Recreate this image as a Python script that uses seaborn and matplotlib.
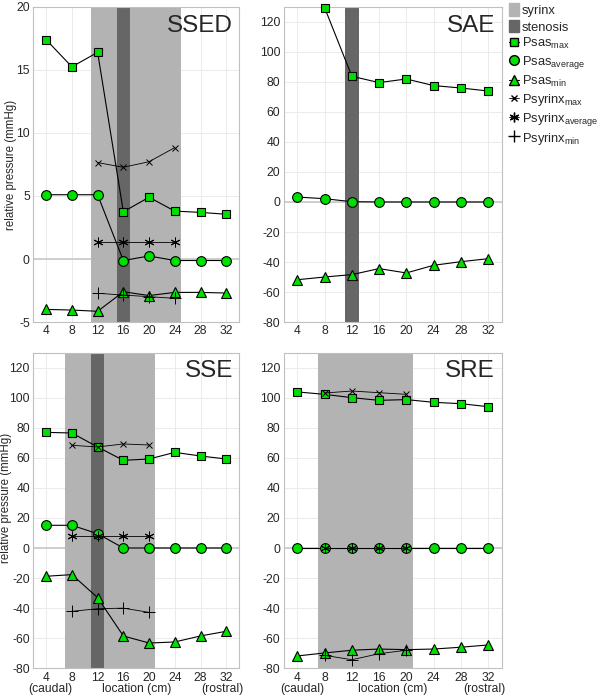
import numpy as np
import pandas as pd
import matplotlib
matplotlib.use("Agg")
import matplotlib.pyplot as plt
import matplotlib.patches as mpatches
import matplotlib.transforms as mtransforms
from matplotlib.lines import Line2D
import seaborn as sns

# locations along the spinal canal (cm)
loc = [4, 8, 12, 16, 20, 24, 28, 32]

# SSED
ssed_psas_max = [17.4, 15.25, 16.4, 3.75, 4.9, 3.8, 3.7, 3.55]
ssed_psas_avg = [5.1, 5.1, 5.1, -0.12, 0.24, -0.12, -0.12, -0.12]
ssed_psas_min = [-4.0, -4.05, -4.15, -2.6, -2.9, -2.65, -2.65, -2.7]
ssed_syr_loc = [12, 16, 20, 24]
ssed_syr_max = [7.65, 7.28, 7.72, 8.84]
ssed_syr_avg = [1.38, 1.38, 1.38, 1.38]
ssed_syr_min = [-2.72, -2.86, -2.99, -3.12]
ssed_syrinx = (11, 25)
ssed_stenosis = (15, 17)

# SAE
sae_loc = [8, 12, 16, 20, 24, 28, 32]
sae_psas_max = [129.5, 83.8, 79.6, 82.0, 77.6, 76.0, 74.0]
sae_psas_avg = [3.3, 2.2, 0.2, 0, 0, 0, 0, 0]
sae_psas_min = [-51.8, -50.0, -48.4, -44.4, -47.3, -42.2, -39.8, -37.8]
sae_stenosis = (11, 13)

# SSE
sse_psas_max = [76.9, 76.5, 67.2, 58.3, 59.2, 63.6, 61.2, 59.2]
sse_psas_avg = [15.1, 15.1, 9.5, 0, 0, 0, 0, 0]
sse_psas_min = [-18.8, -17.7, -33.0, -58.5, -63.2, -62.5, -58.5, -55.4]
sse_syr_loc = [8, 12, 16, 20]
sse_syr_max = [68.3, 67.2, 69.2, 68.5]
sse_syr_avg = [7.8, 7.8, 7.8, 7.8]
sse_syr_min = [-42.1, -40.4, -40.0, -42.8]
sse_syrinx = (7, 21)
sse_stenosis = (11, 13)

# SRE
sre_psas_max = [103.8, 102.2, 100.0, 98.2, 98.7, 96.9, 96.0, 94.0]
sre_psas_avg = [0, 0, 0, 0, 0, 0, 0, 0]
sre_psas_min = [-71.8, -69.8, -68.0, -67.2, -67.6, -67.2, -66.0, -64.5]
sre_syr_loc = [8, 12, 16, 20]
sre_syr_max = [103.1, 104.4, 103.3, 102.2]
sre_syr_avg = [0, 0, 0, 0]
sre_syr_min = [-71.4, -74.3, -70.3, -68.0]
sre_syrinx = (7, 21)

GREEN = "#00e000"
SYRINX_C = "#b3b3b3"
STENOSIS_C = "#666666"
FS = 8.3

sns.set_style("whitegrid")
plt.rcParams["font.family"] = ["Liberation Sans", "DejaVu Sans"]
plt.rcParams["mathtext.fontset"] = "custom"
plt.rcParams["mathtext.rm"] = "Liberation Sans"
plt.rcParams["mathtext.it"] = "Liberation Sans"
plt.rcParams["axes.unicode_minus"] = False

psas_style = {"max": dict(marker="s", ms=5.5), "avg": dict(marker="o", ms=7),
              "min": dict(marker="^", ms=7.5)}
syr_style = {"max": dict(marker="x", ms=5), "avg": dict(marker=(6, 2, 0), ms=7),
             "min": dict(marker="+", ms=8)}


def draw_panel(ax, name, ylim, yticks, psas, syr=None, syrinx=None, stenosis=None):
    ax.axhline(0, color="#c8c8c8", lw=1.2, zorder=0.6)
    if syrinx:
        ax.axvspan(*syrinx, color=SYRINX_C, lw=0, zorder=0.7)
    if stenosis:
        ax.axvspan(*stenosis, color=STENOSIS_C, lw=0, zorder=0.8)
    for key, (x, y) in psas.items():
        sns.lineplot(x=x, y=y, ax=ax, color="black", lw=0.8,
                     markerfacecolor=GREEN, markeredgecolor="black",
                     markeredgewidth=0.8, clip_on=False, zorder=3,
                     **psas_style[key])
    if syr:
        for key, (x, y) in syr.items():
            sns.lineplot(x=x, y=y, ax=ax, color="black", lw=0.6,
                         markeredgecolor="black", markeredgewidth=0.7,
                         zorder=4, **syr_style[key])
    ax.set_xlim(2, 34)
    ax.set_ylim(*ylim)
    ax.set_xticks(loc)
    ax.set_yticks(yticks)
    ax.grid(True, color="#e8e8e8", lw=0.6)
    ax.set_axisbelow(True)
    for s in ax.spines.values():
        s.set_color("#c0c0c0")
        s.set_linewidth(0.8)
    ax.tick_params(labelsize=FS + 0.4, length=3, direction="in", color="#b0b0b0", pad=2.5)
    ax.set_xlabel("")
    ax.set_ylabel("")
    ax.text(0.97, 0.975, name, transform=ax.transAxes, ha="right", va="top",
            fontsize=17.5, zorder=5)


fig = plt.figure(figsize=(6.0, 6.97), dpi=100)
ax_tl = fig.add_axes([0.0555, 0.538, 0.343, 0.452])
ax_tr = fig.add_axes([0.473, 0.538, 0.363, 0.452])
ax_bl = fig.add_axes([0.0555, 0.0412, 0.343, 0.453])
ax_br = fig.add_axes([0.473, 0.0412, 0.363, 0.453])

yt_big = [-80, -60, -40, -20, 0, 20, 40, 60, 80, 100, 120]

draw_panel(ax_tl, "SSED", (-5, 20), [-5, 0, 5, 10, 15, 20],
           {"max": (loc, ssed_psas_max), "avg": (loc, ssed_psas_avg), "min": (loc, ssed_psas_min)},
           {"max": (ssed_syr_loc, ssed_syr_max), "avg": (ssed_syr_loc, ssed_syr_avg),
            "min": (ssed_syr_loc, ssed_syr_min)},
           syrinx=ssed_syrinx, stenosis=ssed_stenosis)
draw_panel(ax_tr, "SAE", (-80, 130), yt_big,
           {"max": (sae_loc, sae_psas_max), "avg": (loc, sae_psas_avg), "min": (loc, sae_psas_min)},
           stenosis=sae_stenosis)
draw_panel(ax_bl, "SSE", (-80, 130), yt_big,
           {"max": (loc, sse_psas_max), "avg": (loc, sse_psas_avg), "min": (loc, sse_psas_min)},
           {"max": (sse_syr_loc, sse_syr_max), "avg": (sse_syr_loc, sse_syr_avg),
            "min": (sse_syr_loc, sse_syr_min)},
           syrinx=sse_syrinx, stenosis=sse_stenosis)
draw_panel(ax_br, "SRE", (-80, 130), yt_big,
           {"max": (loc, sre_psas_max), "avg": (loc, sre_psas_avg), "min": (loc, sre_psas_min)},
           {"max": (sre_syr_loc, sre_syr_max), "avg": (sre_syr_loc, sre_syr_avg),
            "min": (sre_syr_loc, sre_syr_min)},
           syrinx=sre_syrinx)

ax_tl.set_ylabel("relative pressure (mmHg)", fontsize=FS)
ax_tl.yaxis.set_label_coords(-0.078, 0.5)
ax_bl.set_ylabel("relative pressure (mmHg)", fontsize=FS)
ax_bl.yaxis.set_label_coords(-0.105, 0.54)

# second line under the x ticks of the bottom panels
for ax in (ax_bl, ax_br):
    ax.set_xlabel("location (cm)", fontsize=FS + 0.4)
    ax.xaxis.set_label_coords(0.5, -0.048)
    trans = mtransforms.blended_transform_factory(ax.transData, ax.transAxes)
    ax.text(4.7, -0.048, "(caudal)", transform=trans, ha="center", va="top", fontsize=FS + 0.4)
    ax.text(31.4, -0.048, "(rostral)", transform=trans, ha="center", va="top", fontsize=FS + 0.4)

handles = [
    mpatches.Patch(color=SYRINX_C, label="syrinx"),
    mpatches.Patch(color=STENOSIS_C, label="stenosis"),
    Line2D([], [], color="black", lw=0.8, marker="s", ms=5.5, mfc=GREEN, mec="black",
           label=r"Psas$_{\rm max}$"),
    Line2D([], [], color="black", lw=0.8, marker="o", ms=7, mfc=GREEN, mec="black",
           label=r"Psas$_{\rm average}$"),
    Line2D([], [], color="black", lw=0.8, marker="^", ms=7.5, mfc=GREEN, mec="black",
           label=r"Psas$_{\rm min}$"),
    Line2D([], [], color="black", lw=0.6, marker="x", ms=5, label=r"Psyrinx$_{\rm max}$"),
    Line2D([], [], color="black", lw=0.6, marker=(6, 2, 0), ms=7,
           label=r"Psyrinx$_{\rm average}$"),
    Line2D([], [], color="black", lw=0.6, marker="+", ms=8, label=r"Psyrinx$_{\rm min}$"),
]
fig.legend(handles=handles, loc="upper left", bbox_to_anchor=(0.848, 0.995),
           frameon=False, fontsize=9.3, handlelength=0.8, handleheight=1.1,
           handletextpad=0.2, labelspacing=0.22, borderaxespad=0, borderpad=0)

fig.savefig("out.png", dpi=100)
